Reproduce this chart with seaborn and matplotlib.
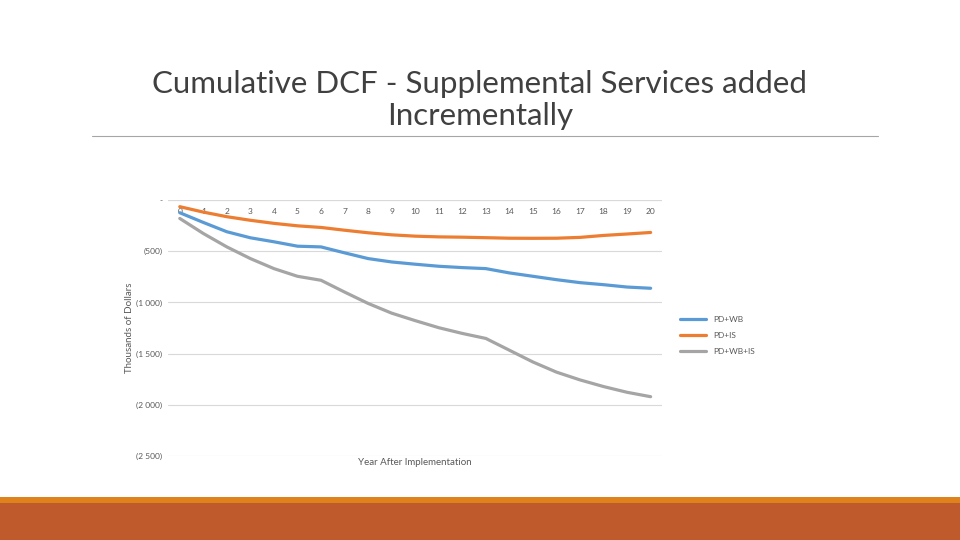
import pandas as pd
import seaborn as sns
import matplotlib.pyplot as plt

# Data (thousands of dollars)
years = list(range(21))
pd_wb = [-124, -219, -310, -369, -408, -451, -458, -516, -572, -605, -627,
         -647, -660, -670, -712, -745, -778, -807, -827, -850, -862]
pd_is = [-65, -118, -163, -198, -228, -252, -268, -295, -320, -340, -353,
         -360, -363, -368, -373, -374, -373, -365, -346, -332, -317]
pd_wb_is = [-180, -327, -458, -572, -670, -745, -784, -899, -1010, -1105, -1178,
            -1247, -1303, -1352, -1467, -1582, -1681, -1757, -1822, -1878, -1921]
series_names = ['PD+WB', 'PD+IS', 'PD+WB+IS']
ytick_vals = [0, -500, -1000, -1500, -2000, -2500]
ytick_text = ['-', '(500)', '(1 000)', '(1 500)', '(2 000)', '(2 500)']

df = pd.DataFrame({'year': years * 3,
                   'value': pd_wb + pd_is + pd_wb_is,
                   'series': [s for s in series_names for _ in years]})

sns.set_style('white')
plt.rcParams['font.family'] = ['Lato', 'DejaVu Sans']

fig = plt.figure(figsize=(9.6, 5.4), dpi=100)
ax = fig.add_axes([0.175, 0.1556, 0.515, 0.474])

colors = ['#5B9BD5', '#ED7D31', '#A5A5A5']
sns.lineplot(data=df, x='year', y='value', hue='series', palette=colors,
             linewidth=2.3, ax=ax)

ax.set_xlim(-0.5, 20.5)
ax.set_ylim(-2500, 0)
ax.set_yticks(ytick_vals)
ax.set_yticklabels(ytick_text)
ax.set_xticks(years)
ax.xaxis.tick_top()
ax.tick_params(axis='x', pad=-11, length=0, labelsize=6, labelcolor='#595959')
ax.tick_params(axis='y', length=0, labelsize=6, labelcolor='#595959', pad=4)
ax.grid(axis='y', color='#D9D9D9', linewidth=0.8)
for s in ax.spines.values():
    s.set_visible(False)
ax.axhline(0, color='#D9D9D9', linewidth=0.8, zorder=0)

ax.set_xlabel('')
ax.set_ylabel('Thousands of Dollars', fontsize=7, color='#595959', labelpad=2)
ax.text(0.5, -0.008, 'Year After Implementation', transform=ax.transAxes,
        ha='center', va='top', fontsize=7, color='#595959')

leg = ax.legend(loc='center left', bbox_to_anchor=(1.02, 0.47), frameon=False,
                fontsize=6, handlelength=3.2, labelspacing=1.1)
for t in leg.get_texts():
    t.set_color('#595959')

# Title and slide decorations
fig.text(0.5, 0.815, 'Cumulative DCF - Supplemental Services added\nIncrementally',
         ha='center', va='center', fontsize=22.5, fontweight='normal',
         color='#404040', linespacing=1.2)
fig.add_artist(plt.Line2D([0.096, 0.915], [0.748, 0.748], color='#A6A6A6',
                          linewidth=0.8))
fig.add_artist(plt.Rectangle((0, 0.068), 1, 0.012, color='#E0821C', lw=0))
fig.add_artist(plt.Rectangle((0, 0), 1, 0.069, color='#BE5A2B', lw=0))

fig.savefig('out.png', dpi=100)
